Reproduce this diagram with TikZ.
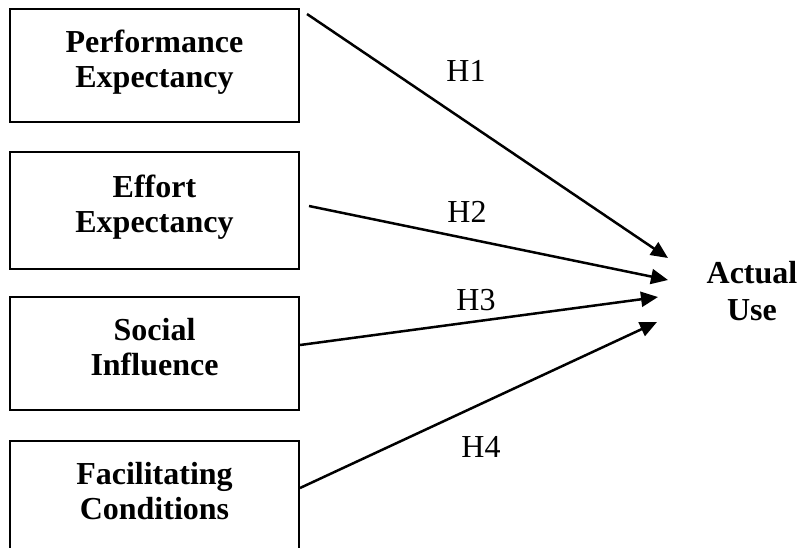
\documentclass[tikz,border=0pt]{standalone}
\usepackage{fontspec}
\setmainfont{Liberation Serif}
\usepackage{tikz}
\usetikzlibrary{positioning,arrows.meta}

\begin{document}
\begin{tikzpicture}[x=1pt,y=-1pt,
    caixa/.style={draw, line width=2pt, minimum width=289pt, minimum height=113pt,
        inner sep=0pt, align=center, font=\fontsize{32}{35}\selectfont\bfseries, text depth=13pt},
    seta/.style={line width=2.5pt, -{Triangle[length=17pt,width=15pt]}},
    hip/.style={font=\fontsize{32}{35}\selectfont}]
    % Area da figura
    \useasboundingbox (0,0) rectangle (799,547);
    \clip (0,0) rectangle (799,547);

    % Construtos
    \node[caixa] (pe) at (154.5,65.5) {Performance\\Expectancy};
    \node[caixa, minimum height=117pt] (ee) at (154.5,210.5) {Effort\\Expectancy};
    \node[caixa] (si) at (154.5,353) {Social\\Influence};
    \node[caixa] (fc) at (154.5,497.5) {Facilitating\\Conditions};

    % Variavel dependente
    \node[align=center, font=\fontsize{32}{37}\selectfont\bfseries] (au) at (752,291) {Actual\\Use};

    % Pontas das setas
    \coordinate (t1) at (668,258);
    \coordinate (t2) at (668,280);
    \coordinate (t3) at (658,297);
    \coordinate (t4) at (657,322);

    % Hipoteses
    \draw[seta] ([xshift=7pt,yshift=-6pt]pe.north east) -- (t1);
    \draw[seta] ([xshift=9pt,yshift=4.5pt]ee.east) -- (t2);
    \draw[seta] ([yshift=8pt]si.east) -- (t3);
    \draw[seta] ([yshift=9.5pt]fc.east) -- (t4);

    \node[hip] (h1) at (466,71) {H1};
    \node[hip] (h2) at (467,212) {H2};
    \node[hip] (h3) at (476,300) {H3};
    \node[hip] (h4) at (481,447) {H4};
\end{tikzpicture}
\end{document}
